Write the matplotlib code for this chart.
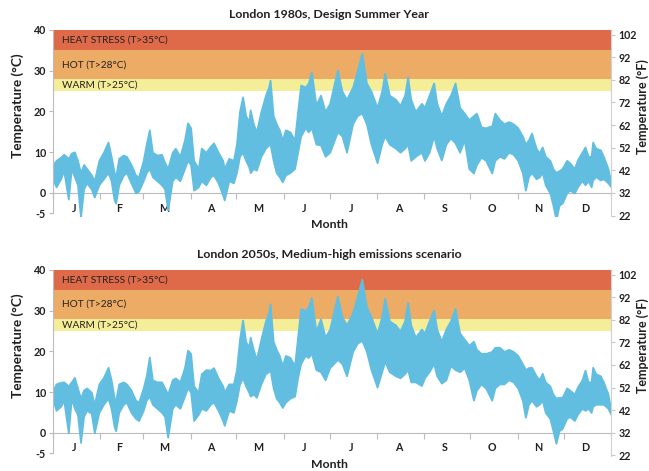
import matplotlib
matplotlib.use("Agg")
import matplotlib.pyplot as plt
import numpy as np

plt.rcParams['font.family'] = ['Lato', 'DejaVu Sans']

# ---------------- data ----------------
months = ["J", "F", "M", "A", "M", "J", "J", "A", "S", "O", "N", "D"]
month_starts = [0, 31, 59, 90, 120, 151, 181, 212, 243, 273, 304, 334, 365]

# day-of-year sample positions (shared by both series)
days = [0, 2, 5, 7, 10, 12, 14, 16, 18, 20, 22, 25, 27, 30, 33, 36, 38, 40, 41, 43,
        46, 48, 51, 54, 56, 59, 61, 63, 65, 68, 71, 73, 75, 78, 80, 83, 86, 88, 90, 92,
        95, 97, 100, 103, 105, 108, 111, 112, 115, 118, 120, 122, 124, 126, 128, 129, 131, 133, 136, 139,
        141, 142, 144, 146, 148, 150, 152, 155, 158, 160, 162, 165, 167, 169, 172, 175, 178, 181, 186, 189,
        192, 196, 199, 202, 205, 208, 212, 215, 217, 220, 224, 227, 230, 232, 234, 237, 241, 243, 246, 249,
        251, 254, 257, 260, 263, 266, 269, 272, 275, 277, 280, 283, 287, 289, 292, 295, 298, 301, 304, 307,
        309, 311, 313, 316, 318, 320, 322, 325, 327, 329, 331, 333, 336, 338, 341, 343, 346, 348, 350, 352,
        353, 355, 358, 360, 363, 365]

# London 1980s DSY: upper / lower edge of the temperature band (deg C)
dsy1980_high = [6.9, 8.0, 8.8, 9.5, 8.5, 9.8, 10.1, 8.0, 5.0, 7.0, 6.0, 4.5, 3.0, 8.0, 10.0, 12.5, 9.0, 5.0, 4.0, 8.5,
                9.3, 9.0, 7.0, 4.4, 4.0, 8.0, 12.0, 15.5, 10.0, 9.3, 9.5, 7.5, 6.0, 10.0, 11.0, 9.0, 13.0, 17.2, 16.0, 8.0,
                6.0, 11.0, 10.0, 11.5, 12.3, 10.0, 8.0, 6.0, 8.5, 8.0, 12.0, 20.0, 23.6, 19.0, 17.5, 20.4, 17.0, 15.0, 20.0, 24.0,
                26.0, 27.7, 19.0, 17.0, 15.5, 13.0, 15.5, 15.0, 13.0, 20.0, 26.5, 26.0, 27.0, 29.7, 21.6, 24.0, 20.0, 22.0, 30.2, 25.0,
                23.0, 26.0, 30.0, 34.3, 27.0, 25.0, 21.0, 25.0, 29.4, 24.0, 23.0, 21.5, 24.0, 28.5, 23.0, 20.0, 22.0, 21.0, 24.0, 27.0,
                22.0, 19.0, 22.0, 24.0, 27.0, 21.0, 19.6, 18.0, 19.0, 19.6, 16.2, 16.0, 16.5, 19.6, 18.0, 17.0, 17.5, 17.0, 16.0, 14.0,
                12.0, 13.0, 14.7, 11.0, 9.8, 11.3, 9.0, 8.0, 6.0, 5.0, 5.5, 6.0, 8.0, 7.4, 6.0, 8.1, 10.0, 11.3, 9.0, 9.0,
                12.5, 11.0, 10.6, 9.0, 6.0, 2.5]
dsy1980_low = [3.2, 1.5, 3.5, 5.5, -1.5, 6.0, 4.0, 2.0, -5.9, 1.0, 2.5, 1.0, -1.0, 2.0, 3.5, 5.0, 3.0, -1.7, -2.5, 2.0,
               4.4, 5.0, 2.5, 0.0, 0.5, 3.0, 5.0, 6.0, 4.0, 3.0, 2.0, 1.0, -4.2, 3.0, 4.0, 3.0, 6.0, 8.0, 7.0, 0.7,
               1.5, 3.0, 2.0, 4.0, 4.4, 2.5, -0.5, -1.7, 3.0, 2.5, 5.0, 9.0, 10.0, 8.0, 6.5, 5.0, 6.0, 5.6, 9.0, 11.0,
               11.8, 12.0, 8.0, 5.0, 4.0, 2.7, 4.4, 5.0, 6.0, 10.0, 14.0, 16.0, 15.0, 16.0, 12.0, 11.8, 9.0, 10.0, 15.0, 14.0,
               10.0, 17.0, 19.0, 19.6, 17.0, 12.0, 7.4, 12.0, 14.0, 12.0, 11.0, 10.0, 11.0, 12.0, 8.0, 9.0, 10.0, 8.0, 10.0, 14.0,
               11.0, 8.1, 12.0, 13.5, 12.3, 10.0, 13.0, 6.0, 4.9, 7.0, 8.8, 8.0, 4.9, 8.0, 9.0, 8.5, 10.0, 9.5, 8.0, 5.0,
               0.7, 4.0, 5.0, 3.5, 3.9, 5.0, 2.0, 0.0, -3.0, -6.6, -3.0, -2.5, 0.0, 0.7, 0.0, 1.5, 3.0, 2.0, 3.0, 1.5,
               3.2, 4.0, 3.2, 3.5, 2.5, 1.5]

# London 2050s, medium-high emissions: upper / lower edge (deg C)
med2050_high = [10.4, 12.0, 12.4, 12.5, 11.5, 12.5, 13.6, 11.0, 8.5, 10.5, 11.0, 10.0, 7.0, 12.0, 13.6, 16.1, 13.0, 8.5, 8.0, 12.0,
                12.5, 12.0, 10.5, 8.0, 7.5, 11.0, 14.0, 18.6, 13.0, 12.5, 12.5, 11.0, 9.5, 13.0, 13.5, 12.5, 16.0, 20.3, 19.5, 11.5,
                10.0, 14.5, 15.5, 15.4, 16.0, 13.5, 11.5, 10.0, 12.0, 12.0, 15.5, 23.0, 27.7, 22.5, 21.0, 23.5, 20.5, 18.0, 23.0, 27.5,
                29.5, 31.7, 22.5, 20.5, 19.0, 16.5, 19.0, 18.5, 16.5, 23.5, 30.5, 30.0, 31.0, 33.2, 25.0, 28.0, 23.5, 25.5, 33.6, 28.5,
                26.5, 29.5, 33.5, 37.7, 31.0, 28.5, 24.5, 28.5, 33.1, 27.5, 26.5, 25.0, 27.5, 32.0, 26.5, 23.5, 25.5, 24.5, 27.5, 30.2,
                25.5, 22.5, 25.5, 27.5, 30.6, 24.5, 23.0, 21.5, 22.5, 20.5, 19.5, 19.5, 20.0, 21.0, 21.0, 20.0, 20.5, 20.0, 19.0, 17.0,
                15.5, 16.0, 16.1, 14.0, 13.0, 14.6, 12.5, 11.5, 9.5, 8.5, 8.7, 8.7, 11.0, 10.5, 9.5, 11.2, 13.0, 15.4, 12.5, 12.5,
                16.1, 14.5, 14.0, 12.5, 9.5, 5.5]
med2050_low = [8.0, 5.5, 6.5, 8.0, 0.0, 8.5, 6.0, 4.5, -2.4, 4.0, 5.5, 4.8, 0.0, 5.0, 7.0, 8.5, 6.0, 1.5, 0.5, 5.0,
               7.0, 7.5, 5.0, 3.5, 3.0, 5.5, 8.0, 9.0, 7.0, 6.0, 5.0, 4.0, -1.1, 6.0, 7.0, 6.0, 9.0, 11.0, 10.0, 3.0,
               4.5, 6.0, 5.5, 7.0, 7.5, 5.5, 3.0, 1.8, 5.5, 5.0, 8.0, 12.0, 13.5, 11.5, 10.0, 9.0, 9.5, 8.7, 12.0, 14.5,
               15.0, 15.5, 11.0, 8.5, 7.5, 6.2, 7.5, 8.5, 9.0, 13.5, 17.0, 19.0, 18.5, 19.5, 15.5, 15.0, 13.0, 16.0, 18.0, 17.0,
               14.0, 20.0, 22.0, 22.7, 20.0, 15.5, 11.2, 15.0, 17.5, 15.0, 14.0, 13.5, 14.5, 15.5, 12.5, 12.5, 11.6, 13.5, 15.0, 17.0,
               14.0, 12.2, 13.0, 16.5, 15.5, 15.0, 16.0, 13.0, 8.0, 10.5, 12.0, 11.0, 8.0, 11.0, 12.0, 12.0, 13.0, 12.5, 11.0, 8.0,
               3.8, 7.0, 8.0, 6.5, 7.0, 8.0, 5.0, 3.5, 0.5, -2.6, 0.5, 1.0, 3.5, 4.0, 3.0, 4.5, 6.0, 5.5, 6.0, 5.0,
               6.5, 7.0, 7.0, 7.0, 6.0, 4.5]

titles = ["London 1980s, Design Summer Year", "London 2050s, Medium-high emissions scenario"]
bands = [(35, 40, "HEAT STRESS (T>35\u00b0C)", "#DE6A4A"),
         (28, 35, "HOT (T>28\u00b0C)", "#ECAC66"),
         (25, 28, "WARM (T>25\u00b0C)", "#F4EE98")]
c_ticks = [-5, 0, 10, 20, 30, 40]
f_ticks = [22, 32, 42, 52, 62, 72, 82, 92, 102]

# ---------------- figure ----------------
W, H = 649, 471
fig = plt.figure(figsize=(W / 100, H / 100), dpi=100)

BAND_BLUE = "#62BEE0"
GREY = "#BBBBBB"
TXT = "#231F20"

def px_axes(left, top, right, bottom):
    return [left / W, 1 - bottom / H, (right - left) / W, (bottom - top) / H]

panels = [
    dict(rect=px_axes(53, 30, 611, 215.8), hi=dsy1980_high, lo=dsy1980_low,
         title=titles[0], title_y=14, month_y=225),
    dict(rect=px_axes(53, 270, 611, 455.5), hi=med2050_high, lo=med2050_low,
         title=titles[1], title_y=255, month_y=465),
]

for p in panels:
    ax = fig.add_axes(p["rect"])
    ax.set_xlim(0, 365)
    ax.set_ylim(-5.6, 40)

    for lo_b, hi_b, lab, col in bands:
        ax.axhspan(lo_b, hi_b, color=col, lw=0, zorder=0)
        ax.text(6, (lo_b + hi_b) / 2, lab, fontsize=7.3, color=TXT,
                va="center", ha="left", zorder=3)

    ax.fill_between(days, p["lo"], p["hi"], color=BAND_BLUE, lw=1.3,
                    edgecolor=BAND_BLUE, zorder=2)

    # axes styling
    ax.spines["top"].set_visible(False)
    ax.spines["right"].set_visible(False)
    ax.spines["left"].set_color(GREY)
    ax.spines["left"].set_bounds(-5, 40)
    ax.spines["bottom"].set_position(("data", 0))
    ax.spines["bottom"].set_color(GREY)
    ax.spines["bottom"].set_zorder(1)

    ax.set_yticks(c_ticks)
    ax.set_yticklabels([str(t) for t in c_ticks])
    ax.tick_params(axis="y", colors=GREY, labelcolor=TXT, length=3, width=0.8,
                   labelsize=7.7, pad=2)
    for lbl in ax.get_yticklabels():
        lbl.set_fontweight("bold")

    ax.set_xticks(month_starts)
    ax.set_xticklabels([])
    mids = [(month_starts[i] + month_starts[i + 1]) / 2 - 1.5 for i in range(12)]
    ax.set_xticks(mids, minor=True)
    ax.set_xticklabels(months, minor=True)
    ax.tick_params(axis="x", which="major", colors=GREY, length=4, width=0.8, direction="out")
    ax.tick_params(axis="x", which="minor", length=0, labelsize=7.7, labelcolor=TXT, pad=7)
    for lbl in ax.get_xticklabels(minor=True):
        lbl.set_fontweight("bold")

    # Fahrenheit axis
    axf = ax.twinx()
    axf.set_ylim(-5.6 * 1.8 + 32, 40 * 1.8 + 32)
    axf.set_yticks(f_ticks)
    axf.set_yticklabels([str(t) for t in f_ticks])
    for s in ["top", "left", "bottom"]:
        axf.spines[s].set_visible(False)
    axf.spines["right"].set_color("#D0D0D0")
    axf.tick_params(axis="y", colors="#C8C8C8", labelcolor=TXT, length=3, width=0.8,
                    labelsize=7.7, pad=2.5)
    for lbl in axf.get_yticklabels():
        lbl.set_fontweight("bold")

    fig.text(0.5 * (53 + 611) / W - 0.004, 1 - p["title_y"] / H, p["title"],
             ha="center", va="center", fontsize=8.9, fontweight="bold", color=TXT)
    fig.text(329 / W, 1 - p["month_y"] / H, "Month", ha="center", va="center",
             fontsize=8.8, fontweight="bold", color=TXT)
    yc = (p["rect"][1] + p["rect"][3] * 0.59)
    fig.text(18 / W, yc, "Temperature (\u00b0C)", rotation=90, ha="center",
             va="center", fontsize=9.8, fontweight="bold", color=TXT)
    fig.text(642.5 / W, yc, "Temperature (\u00b0F)", rotation=90, ha="center",
             va="center", fontsize=9.0, fontweight="bold", color=TXT)

fig.savefig("out.png", dpi=100)
